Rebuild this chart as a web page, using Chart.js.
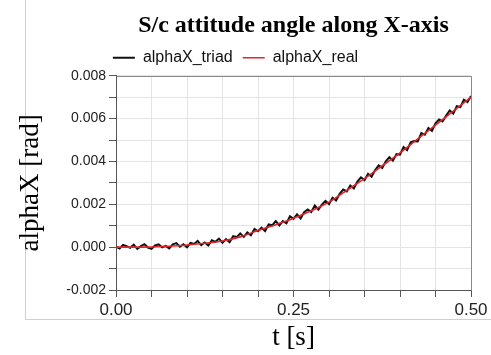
<!DOCTYPE html>
<html>
<head>
<meta charset="utf-8">
<script src="https://cdn.jsdelivr.net/npm/chart.js@4/dist/chart.umd.min.js"></script>
<style>
  html, body { margin: 0; padding: 0; background: #fff; }
  #wrap { width: 491px; height: 355px; position: relative; }
</style>
</head>
<body>
<div id="wrap"><canvas id="attitude-chart" width="491" height="355"></canvas></div>
<script>
// triad estimate, sampled every 5 ms from 0 to 0.5 s
const triadStep = 0.005;
const alphaTriad = [
  0.00003, -0.00006, 0.00010, 0.00004, -0.00003, 0.00012, -0.00008, 0.00005, 0.00014, -0.00002,
  -0.00008, 0.00008, 0.00013, -0.00001, 0.00006, -0.00006, 0.00013, 0.00019, 0.00002, 0.00014,
  -0.00001, 0.00020, 0.00015, 0.00029, 0.00009, 0.00022, 0.00008, 0.00032, 0.00025, 0.00040,
  0.00021, 0.00038, 0.00023, 0.00051, 0.00047, 0.00064, 0.00048, 0.00069, 0.00056, 0.00085,
  0.00074, 0.00091, 0.00075, 0.00106, 0.00102, 0.00122, 0.00102, 0.00122, 0.00111, 0.00144,
  0.00132, 0.00153, 0.00134, 0.00163, 0.00176, 0.00164, 0.00194, 0.00175, 0.00198, 0.00216,
  0.00201, 0.00231, 0.00218, 0.00249, 0.00269, 0.00260, 0.00288, 0.00274, 0.00306, 0.00326,
  0.00313, 0.00343, 0.00329, 0.00360, 0.00382, 0.00370, 0.00401, 0.00420, 0.00404, 0.00434,
  0.00432, 0.00467, 0.00453, 0.00489, 0.00495, 0.00494, 0.00533, 0.00525, 0.00556, 0.00543,
  0.00578, 0.00596, 0.00587, 0.00614, 0.00638, 0.00623, 0.00658, 0.00654, 0.00688, 0.00677,
  0.00706
];
const tTriad = alphaTriad.map((_, i) => +(i * triadStep).toFixed(3));

// reference (true) attitude
const tReal = [0, 0.025, 0.05, 0.075, 0.1, 0.125, 0.15, 0.175, 0.2, 0.225, 0.25,
               0.275, 0.3, 0.325, 0.35, 0.375, 0.4, 0.425, 0.45, 0.475, 0.5];
const alphaReal = [0, 0, 0.00001, 0.00004, 0.0001, 0.00018, 0.00029, 0.00048, 0.00078, 0.00105, 0.00135,
                   0.0017, 0.0021, 0.00265, 0.0032, 0.0038, 0.0044, 0.00505, 0.0057, 0.00635, 0.007];

const xLabels = [0, 0.25, 0.5];
const yLabels = [-0.002, 0, 0.002, 0.004, 0.006, 0.008];

const triadPts = tTriad.map((t, i) => ({x: t, y: alphaTriad[i]}));
const realPts = tReal.map((t, i) => ({x: t, y: alphaReal[i]}));

// light outer frame of the original screenshot + dark frame round the plot
const framePlugin = {
  id: 'frames',
  beforeDraw(chart) {
    const c = chart.ctx;
    c.save();
    c.strokeStyle = '#cfcfcf';
    c.lineWidth = 1;
    c.beginPath();
    c.moveTo(25.5, 0);
    c.lineTo(25.5, 319.5);
    c.lineTo(491, 319.5);
    c.stroke();
    c.restore();
  },
  afterDraw(chart) {
    const a = chart.chartArea;
    const c = chart.ctx;
    c.save();
    c.strokeStyle = '#8a8a8a';
    c.lineWidth = 1;
    c.beginPath();
    c.moveTo(Math.round(a.left) + 0.5, Math.round(a.top) + 0.5);
    c.lineTo(Math.round(a.right) + 0.5, Math.round(a.top) + 0.5);
    c.lineTo(Math.round(a.right) + 0.5, Math.round(a.bottom) + 0.5);
    c.stroke();
    c.restore();
  }
};

const near = (v, list) => list.some(l => Math.abs(l - v) < 1e-9);

new Chart(document.getElementById('attitude-chart'), {
  type: 'line',
  data: {
    datasets: [
      {
        label: 'alphaX_triad',
        data: triadPts,
        borderColor: '#111111',
        backgroundColor: '#111111',
        borderWidth: 2,
        pointRadius: 0,
        tension: 0,
        order: 2
      },
      {
        label: 'alphaX_real',
        data: realPts,
        borderColor: '#e3242b',
        backgroundColor: '#e3242b',
        borderWidth: 1.6,
        pointRadius: 0,
        cubicInterpolationMode: 'monotone',
        order: 1
      }
    ]
  },
  options: {
    responsive: false,
    animation: false,
    layout: { padding: { top: 5, right: 20, bottom: 0, left: 0 } },
    plugins: {
      title: {
        display: true,
        fullSize: false,
        text: 'S/c attitude angle along X-axis',
        color: '#000',
        font: { family: '"Liberation Serif", "Times New Roman", serif', size: 24, weight: 'bold' },
        padding: { top: 6, bottom: 0 }
      },
      legend: {
        display: true,
        labels: {
          usePointStyle: true,
          pointStyle: 'line',
          pointStyleWidth: 22,
          padding: 10,
          color: '#111',
          font: { family: '"Liberation Sans", Arial, sans-serif', size: 16 },
          sort: (a, b) => a.datasetIndex - b.datasetIndex
        }
      },
      tooltip: { enabled: false }
    },
    scales: {
      x: {
        type: 'linear',
        min: 0,
        max: 0.5,
        afterFit(s) { s.height = 65; },
        ticks: {
          stepSize: 0.05,
          autoSkip: false,
          maxRotation: 0,
          padding: 3,
          color: '#222',
          font: { family: '"Liberation Sans", Arial, sans-serif', size: 17 },
          callback: v => near(v, xLabels) ? v.toFixed(2) : ''
        },
        grid: { color: '#e4e4e4', tickColor: '#555', tickLength: 7 },
        border: { color: '#555', width: 1 },
        title: {
          display: true,
          text: 't [s]',
          color: '#000',
          font: { family: '"Liberation Serif", "Times New Roman", serif', size: 27 },
          padding: { top: 0, bottom: 1 }
        }
      },
      y: {
        min: -0.002,
        max: 0.008,
        afterFit(s) { s.width = 116; },
        ticks: {
          stepSize: 0.001,
          autoSkip: false,
          padding: 3,
          color: '#222',
          font: { family: '"Liberation Sans", Arial, sans-serif', size: 14 },
          callback: v => near(v, yLabels) ? v.toFixed(3) : ''
        },
        grid: { color: '#e4e4e4', tickColor: '#555', tickLength: 7 },
        border: { color: '#555', width: 1 },
        title: {
          display: true,
          text: 'alphaX [rad]',
          color: '#000',
          font: { family: '"Liberation Serif", "Times New Roman", serif', size: 27 },
          padding: { top: 15, bottom: 0 }
        }
      }
    }
  },
  plugins: [framePlugin]
});
</script>
</body>
</html>
